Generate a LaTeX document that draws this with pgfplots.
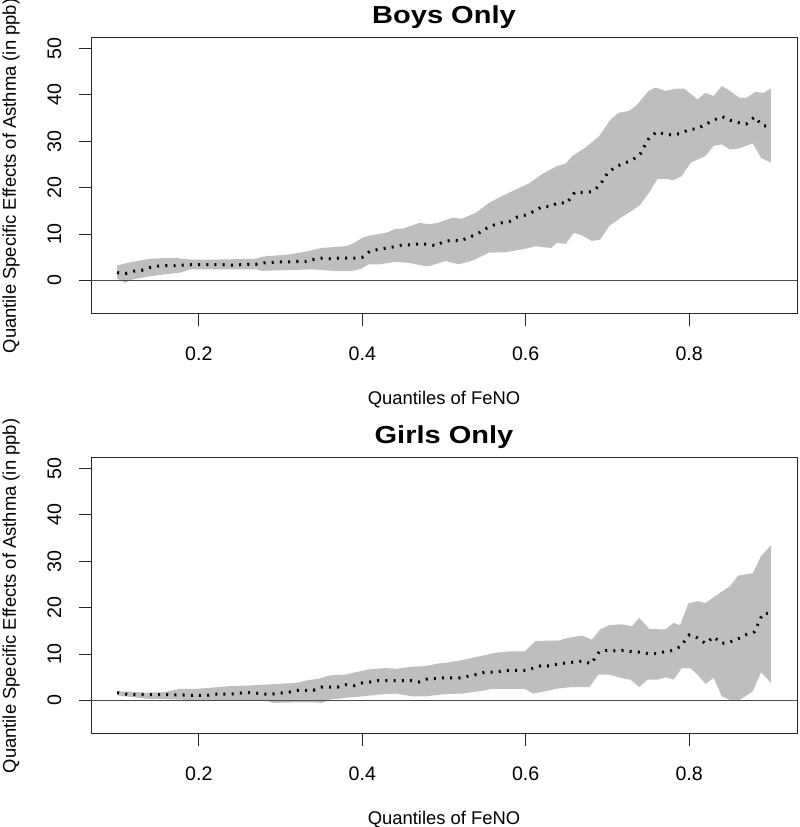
\documentclass[border=0pt]{standalone}
\usepackage{fontspec}
\setmainfont{Liberation Sans}
\newfontfamily\titlefont{Liberation Sans}[FakeStretch=1.18]
\usepackage{pgfplots}
\pgfplotsset{compat=1.18}
\usepgfplotslibrary{fillbetween}
\definecolor{band}{RGB}{190,190,190}

\pgfplotsset{
  rpanel/.style={
    scale only axis, width=353pt, height=138pt,
    xmin=0.068, xmax=0.932, ymin=-7.2, ymax=52.2,
    xtick={0.2,0.4,0.6,0.8}, ytick={0,10,...,50},
    tick pos=left, tick align=outside, major tick length=6pt,
    axis line style={black!85, line width=0.5pt},
    tick style={black!85, line width=0.5pt},
    /pgf/number format/assume math mode=true,
    ticklabel style={font=\fontsize{9.8}{11}\selectfont, inner sep=0pt},
    xticklabel style={anchor=north},
    yticklabel style={rotate=90, anchor=south},
    xticklabel shift=10.35pt, yticklabel shift=8.65pt,
    xlabel={Quantiles of FeNO},
    ylabel={Quantile Specific Effects of Asthma (in ppb)},
    every axis x label/.style={font=\fontsize{9.2}{11}\selectfont, inner sep=0pt,
      at={([yshift=-38.4pt]axis description cs:0.5,0)}, anchor=north},
    every axis y label/.style={font=\fontsize{9.2}{11}\selectfont, inner sep=0pt,
      at={([xshift=-37.5pt]axis description cs:0,0.5)}, rotate=90, anchor=base},
    every axis title/.style={font=\titlefont\bfseries\fontsize{12.3}{14}\selectfont,
      at={([yshift=7.3pt]axis description cs:0.5,1)}, anchor=base, inner sep=0pt},
  },
  zeroline/.style={black!70, line width=0.5pt},
  medline/.style={black, line width=1.5pt, dash pattern=on 1pt off 3.1pt},
}

\begin{document}
\begin{tikzpicture}

% boys
\begin{axis}[rpanel, at={(45.5pt,256.5pt)}, anchor=south west, title={Boys Only}]
\addplot[name path=bu, draw=none] coordinates {
(0.10,3.2) (0.11,3.7) (0.14,4.7) (0.17,4.9) (0.19,4.5) (0.22,4.5) (0.27,4.7) (0.28,5.2)
(0.31,5.6) (0.33,6.2) (0.35,7.0) (0.38,7.4) (0.39,8.1) (0.40,9.2) (0.41,9.7) (0.43,10.3)
(0.44,11.1) (0.45,11.2) (0.47,12.4) (0.482,12.1) (0.494,12.5) (0.51,13.5) (0.522,13.3)
(0.539,14.6) (0.555,16.7) (0.571,18.2) (0.588,19.6) (0.604,20.9) (0.620,22.9) (0.638,24.6)
(0.649,25.2) (0.657,26.8) (0.673,28.6) (0.690,31.1) (0.704,34.7) (0.714,36.1) (0.726,36.5)
(0.735,37.6) (0.751,40.9) (0.759,41.5) (0.771,40.8) (0.784,41.3) (0.794,41.3) (0.810,39.0)
(0.820,40.4) (0.830,39.7) (0.840,41.9) (0.850,40.8) (0.862,39.3) (0.870,39.3) (0.881,40.6)
(0.891,40.4) (0.900,41.3)};
\addplot[name path=bl, draw=none] coordinates {
(0.10,0.4) (0.11,-0.5) (0.118,0.2) (0.136,0.8) (0.156,1.3) (0.177,1.7) (0.189,2.4) (0.270,2.4)
(0.278,2.1) (0.299,2.2) (0.339,2.4) (0.364,2.1) (0.388,2.1) (0.398,2.5) (0.408,3.5) (0.421,3.5)
(0.441,4.0) (0.457,3.8) (0.477,3.1) (0.482,3.1) (0.502,4.2) (0.518,3.5) (0.535,4.3) (0.555,6.0)
(0.576,6.1) (0.596,6.7) (0.612,7.4) (0.631,7.0) (0.638,8.1) (0.649,7.9) (0.659,10.3) (0.669,9.7)
(0.681,8.5) (0.691,8.8) (0.702,11.7) (0.716,13.5) (0.730,15.0) (0.740,16.3) (0.751,18.9)
(0.761,21.8) (0.771,21.9) (0.781,21.6) (0.791,22.5) (0.802,25.4) (0.820,26.8) (0.830,29.0)
(0.840,29.3) (0.850,28.2) (0.860,28.4) (0.870,29.0) (0.878,29.5) (0.888,26.4) (0.900,25.4)};
\addplot[fill=band, draw=none] fill between[of=bu and bl];
\addplot[zeroline] coordinates {(0.068,0) (0.932,0)};
\addplot[medline] coordinates {
(0.10,1.7) (0.11,1.5) (0.12,2.0) (0.13,2.2) (0.14,2.8) (0.15,3.1) (0.16,3.2) (0.17,3.2)
(0.18,3.3) (0.19,3.4) (0.20,3.4) (0.21,3.4) (0.22,3.4) (0.23,3.4) (0.24,3.3) (0.25,3.4)
(0.26,3.5) (0.27,3.5) (0.28,3.8) (0.29,3.9) (0.30,4.0) (0.31,4.0) (0.32,4.1) (0.33,4.1)
(0.34,4.5) (0.35,4.8) (0.36,4.7) (0.37,4.8) (0.38,4.8) (0.39,4.8) (0.40,5.0) (0.41,6.4)
(0.42,6.7) (0.43,7.0) (0.44,7.3) (0.45,7.7) (0.46,7.7) (0.47,7.9) (0.48,7.8) (0.49,7.5)
(0.50,8.4) (0.51,8.7) (0.52,8.5) (0.53,9.3) (0.54,9.9) (0.55,11.1) (0.56,11.9) (0.57,12.4)
(0.58,12.7) (0.59,13.7) (0.60,14.1) (0.61,14.9) (0.62,15.9) (0.63,15.9) (0.64,16.8) (0.65,16.6)
(0.66,19.0) (0.67,19.0) (0.68,19.1) (0.69,20.3) (0.70,23.1) (0.71,24.5) (0.72,25.2) (0.73,25.9)
(0.74,27.2) (0.75,30.4) (0.76,32.0) (0.77,31.5) (0.78,31.3) (0.79,31.7) (0.80,32.5) (0.81,32.7)
(0.82,33.6) (0.83,34.5) (0.84,35.3) (0.85,34.5) (0.86,34.0) (0.87,33.7) (0.88,35.2) (0.89,33.3)
(0.90,33.3)};
\end{axis}

% girls
\begin{axis}[rpanel, at={(45.5pt,46.5pt)}, anchor=south west, title={Girls Only}]
\addplot[name path=gu, draw=none] coordinates {
(0.10,2.0) (0.115,1.9) (0.136,1.7) (0.156,1.8) (0.168,2.2) (0.177,2.5) (0.197,2.5) (0.217,2.8)
(0.238,3.1) (0.258,3.2) (0.278,3.4) (0.299,3.6) (0.319,3.8) (0.331,4.3) (0.347,4.7) (0.36,5.4)
(0.38,5.6) (0.392,6.1) (0.408,6.7) (0.429,7.0) (0.441,6.8) (0.461,7.3) (0.477,7.4) (0.494,8.0)
(0.502,8.1) (0.522,8.7) (0.543,9.5) (0.563,10.3) (0.583,10.6) (0.599,10.6) (0.612,12.8)
(0.624,12.9) (0.640,12.9) (0.652,13.5) (0.669,14.0) (0.681,13.1) (0.691,15.3) (0.702,16.2)
(0.718,16.4) (0.730,16.0) (0.739,17.8) (0.751,15.4) (0.771,15.3) (0.781,16.7) (0.789,16.2)
(0.799,20.9) (0.81,21.4) (0.82,21.0) (0.832,22.5) (0.85,24.6) (0.86,26.9) (0.878,27.4)
(0.888,31.1) (0.90,33.4)};
\addplot[name path=gl, draw=none] coordinates {
(0.10,1.1) (0.115,0.8) (0.136,0.4) (0.177,0.2) (0.209,-0.1) (0.238,0.1) (0.282,0.1) (0.29,-0.5)
(0.319,-0.4) (0.339,-0.4) (0.351,-0.5) (0.36,0.2) (0.38,0.6) (0.40,0.9) (0.421,1.3) (0.441,1.5)
(0.461,0.9) (0.477,0.9) (0.502,1.4) (0.522,1.5) (0.543,2.0) (0.559,2.5) (0.599,2.5) (0.609,1.5)
(0.624,2.0) (0.640,2.6) (0.656,2.9) (0.678,2.9) (0.689,5.6) (0.702,5.6) (0.718,4.8) (0.728,4.5)
(0.739,2.9) (0.749,4.5) (0.761,4.5) (0.771,5.0) (0.781,4.5) (0.791,7.0) (0.802,6.9) (0.81,5.6)
(0.82,3.6) (0.83,4.9) (0.84,0.9) (0.85,0.1) (0.86,-0.1) (0.878,2.0) (0.888,6.1) (0.90,3.8)};
\addplot[fill=band, draw=none] fill between[of=gu and gl];
\addplot[zeroline] coordinates {(0.068,0) (0.932,0)};
\addplot[medline] coordinates {
(0.10,1.7) (0.11,1.4) (0.12,1.3) (0.13,1.3) (0.14,1.3) (0.15,1.3) (0.16,1.3) (0.17,1.2)
(0.18,1.2) (0.19,1.1) (0.20,1.1) (0.21,1.1) (0.22,1.4) (0.23,1.4) (0.24,1.4) (0.25,1.6)
(0.26,1.7) (0.27,1.6) (0.28,1.4) (0.29,1.4) (0.30,1.6) (0.31,1.8) (0.32,2.2) (0.33,2.2)
(0.34,2.2) (0.35,2.9) (0.36,2.9) (0.37,2.9) (0.38,3.4) (0.39,3.2) (0.40,3.8) (0.41,4.0)
(0.42,4.3) (0.43,4.3) (0.44,4.3) (0.45,4.3) (0.46,4.3) (0.47,4.0) (0.48,4.7) (0.49,4.7)
(0.50,4.9) (0.51,4.9) (0.52,4.9) (0.53,5.25) (0.54,5.6) (0.55,6.1) (0.56,6.1) (0.57,6.3)
(0.58,6.5) (0.59,6.5) (0.60,6.5) (0.61,7.0) (0.62,7.6) (0.63,7.4) (0.64,7.9) (0.65,8.1)
(0.66,8.3) (0.67,8.5) (0.68,7.9) (0.69,10.5) (0.70,10.8) (0.71,10.7) (0.72,10.8) (0.73,10.5)
(0.74,10.4) (0.75,10.1) (0.76,10.1) (0.77,10.5) (0.78,10.8) (0.79,11.7) (0.80,14.1) (0.81,13.5)
(0.82,12.3) (0.83,13.7) (0.84,12.3) (0.85,12.6) (0.86,13.3) (0.87,14.2) (0.88,14.8) (0.89,18.7)
(0.90,18.8)};
\end{axis}

\pgfresetboundingbox
\path[use as bounding box] (0,0) rectangle (400pt,413.5pt);
\end{tikzpicture}
\end{document}
